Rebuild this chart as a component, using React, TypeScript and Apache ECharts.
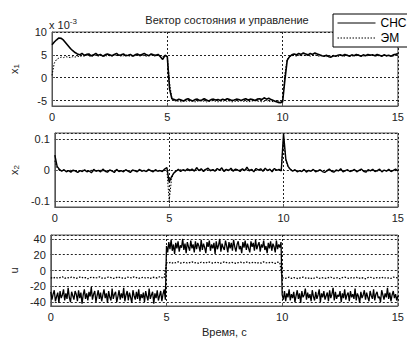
import React, { useEffect, useRef } from "react";
import * as echarts from "echarts";

// time grids: 0.1 s step and 0.05 s step
const time: number[] = Array.from({ length: 151 }, (_, i) => i / 10);
const timeFine: number[] = Array.from({ length: 301 }, (_, i) => i / 20);

const xTicks = [0, 5, 10, 15];

// x1 in units of 1e-3
const x1Snc: number[] = [
  7.2, 7.8, 8.3, 8.7, 8.6, 8.2, 7.6, 7.0, 6.4, 5.9,
  5.5, 5.2, 5.0, 5.3, 4.9, 5.1, 5.2, 4.8, 5.0, 5.3,
  4.9, 5.1, 4.7, 5.0, 5.2, 5.0, 4.8, 5.1, 5.3, 4.9,
  5.0, 5.2, 4.8, 4.9, 5.1, 4.7, 5.0, 5.2, 4.9, 5.1,
  5.3, 5.0, 4.8, 5.2, 5.0, 4.9, 5.1, 4.6, 4.0, 4.9,
  4.6, -2.5, -4.6, -4.8, -5.0, -4.7, -4.9, -5.1, -4.8, -4.6,
  -4.9, -5.1, -4.8, -4.7, -5.0, -4.9, -4.6, -4.9, -5.1, -4.8,
  -4.7, -4.9, -4.8, -5.0, -4.7, -4.9, -4.6, -4.8, -5.0, -4.9,
  -4.7, -4.8, -5.0, -4.8, -4.6, -4.9, -4.7, -4.8, -5.0, -4.7,
  -4.6, -4.8, -4.4, -4.7, -4.5, -4.8, -5.0, -5.2, -5.4, -5.5,
  -5.3, -0.5, 3.8, 4.6, 5.0, 5.2, 5.0, 5.3, 5.1, 5.4,
  5.2, 5.0, 5.3, 5.1, 5.4, 5.2, 5.0, 4.8, 4.7, 4.9,
  4.6, 4.5, 4.8, 4.7, 4.9, 5.0, 4.8, 5.1, 4.9, 4.7,
  5.0, 4.8, 5.1, 4.9, 4.7, 5.0, 4.8, 5.1, 4.9, 5.0,
  4.8, 5.1, 4.9, 4.7, 5.0, 4.8, 4.9, 4.7, 5.0, 5.1, 5.3,
];
const x1Em: number[] = [
  0.5, 3.2, 4.0, 4.3, 4.5, 4.4, 4.6, 4.5, 4.4, 4.6,
  4.5, 4.7, 4.6, 4.8, 4.7, 4.9, 4.8, 4.6, 4.8, 4.9,
  4.7, 4.9, 4.8, 4.6, 4.9, 4.8, 4.7, 5.0, 4.8, 4.9,
  4.7, 4.8, 5.0, 4.8, 4.7, 4.9, 4.8, 5.0, 4.7, 4.9,
  4.8, 4.7, 4.9, 5.0, 4.8, 4.7, 4.9, 4.8, 4.6, 4.8,
  4.7, -1.2, -4.6, -5.0, -5.2, -5.1, -5.3, -5.1, -5.2, -5.0,
  -5.2, -5.1, -5.3, -5.2, -5.0, -5.2, -5.1, -5.3, -5.2, -5.1,
  -5.0, -5.2, -5.3, -5.1, -5.2, -5.0, -5.2, -5.1, -5.3, -5.2,
  -5.1, -5.2, -5.0, -5.2, -5.1, -5.3, -5.2, -5.1, -5.0, -5.2,
  -5.1, -5.3, -5.2, -5.0, -5.2, -5.1, -5.3, -5.2, -5.1, -5.2,
  -5.2, 0.8, 4.1, 4.6, 4.8, 4.9, 4.7, 4.9, 4.8, 5.0,
  4.8, 4.9, 4.7, 4.9, 5.0, 4.8, 4.7, 4.9, 4.8, 4.6,
  4.8, 4.7, 4.9, 4.8, 4.6, 4.9, 4.8, 4.7, 4.9, 4.8,
  4.7, 4.9, 4.8, 5.0, 4.8, 4.7, 4.9, 4.8, 5.0, 4.9,
  4.8, 4.7, 4.9, 4.8, 5.0, 4.7, 4.9, 4.8, 4.7, 4.9, 5.0,
];

const x2Snc: number[] = [
  0.048, 0.012, 0.002, -0.004, 0.001, -0.006, -0.002, -0.007, 0.0, -0.004,
  -0.008, -0.002, -0.005, 0.001, -0.006, -0.003, -0.009, 0.002, -0.004, -0.001,
  -0.006, 0.003, -0.004, -0.007, 0.0, -0.003, -0.008, 0.002, -0.005, -0.002,
  -0.006, 0.001, -0.004, -0.008, 0.0, -0.003, -0.006, 0.002, -0.004, -0.001,
  -0.005, 0.002, -0.003, -0.006, 0.001, -0.004, -0.002, -0.005, 0.003, 0.008,
  -0.04, -0.022, -0.01, -0.004, 0.002, -0.005, 0.001, -0.003, 0.004, -0.002,
  0.003, -0.004, 0.008, -0.002, 0.004, -0.005, 0.002, 0.006, -0.003, 0.001,
  -0.004, 0.005, -0.001, 0.007, -0.005, 0.002, -0.002, 0.006, -0.004, 0.003,
  0.0, -0.005, 0.004, -0.002, 0.009, -0.003, 0.002, -0.006, 0.005, 0.0,
  0.004, -0.004, 0.006, -0.002, 0.003, -0.006, 0.005, -0.001, 0.002, -0.003,
  0.118, 0.035, 0.012, 0.002, -0.004, 0.001, -0.006, -0.002, -0.005, 0.002,
  -0.007, -0.001, -0.004, 0.002, -0.006, -0.003, 0.001, -0.005, -0.008, -0.002,
  0.003, -0.004, -0.007, 0.0, -0.003, 0.004, -0.006, -0.002, 0.001, -0.005,
  -0.003, 0.002, -0.006, -0.001, 0.003, -0.004, -0.007, 0.001, -0.003, 0.002,
  -0.005, -0.002, 0.003, -0.006, 0.0, -0.004, 0.002, -0.005, -0.001, 0.003, -0.003,
];
const x2Em: number[] = [
  0.03, 0.006, 0.0, -0.002, -0.001, -0.003, -0.002, -0.001, -0.003, -0.002,
  -0.002, -0.003, -0.001, -0.002, -0.003, -0.002, -0.001, -0.003, -0.002, -0.002,
  -0.001, -0.003, -0.002, -0.002, -0.001, -0.003, -0.002, -0.001, -0.002, -0.003,
  -0.002, -0.001, -0.003, -0.002, -0.002, -0.001, -0.003, -0.002, -0.001, -0.002,
  -0.003, -0.002, -0.001, -0.002, -0.003, -0.002, -0.001, -0.002, -0.002, -0.001,
  -0.1, -0.03, -0.008, -0.002, 0.0, 0.001, 0.0, 0.001, 0.0, 0.001,
  0.0, 0.001, 0.001, 0.0, 0.001, 0.0, 0.001, 0.0, 0.0, 0.001,
  0.001, 0.0, 0.001, 0.0, 0.001, 0.001, 0.0, 0.001, 0.0, 0.001,
  0.0, 0.001, 0.0, 0.001, 0.001, 0.0, 0.001, 0.0, 0.001, 0.0,
  0.001, 0.0, 0.001, 0.0, 0.001, 0.0, 0.001, 0.001, 0.0, 0.001,
  0.1, 0.03, 0.008, 0.001, -0.001, -0.002, -0.002, -0.003, -0.002, -0.001,
  -0.002, -0.003, -0.002, -0.001, -0.002, -0.003, -0.002, -0.002, -0.001, -0.003,
  -0.002, -0.001, -0.002, -0.003, -0.002, -0.001, -0.002, -0.003, -0.002, -0.002,
  -0.001, -0.002, -0.003, -0.002, -0.001, -0.002, -0.002, -0.003, -0.001, -0.002,
  -0.002, -0.003, -0.002, -0.001, -0.002, -0.003, -0.002, -0.001, -0.002, -0.002, -0.003,
];

// u (СНС) sampled every 0.05 s
const uSnc: number[] = [
  -27, -37, -30, -25, -39, -33, -28, -41, -26, -35,
  -31, -24, -38, -29, -36, -22, -34, -40, -27, -32,
  -37, -26, -30, -39, -25, -35, -28, -42, -31, -24,
  -36, -29, -38, -27, -33, -21, -37, -30, -26, -40,
  -32, -25, -36, -28, -39, -31, -24, -35, -29, -41,
  -26, -34, -38, -23, -36, -30, -27, -40, -33, -25,
  -37, -29, -35, -22, -39, -31, -26, -38, -28, -34,
  -41, -25, -32, -37, -27, -36, -24, -39, -30, -35,
  -28, -40, -26, -33, -38, -23, -36, -31, -27, -42,
  -29, -35, -25, -38, -32, -26, -39, -30, -24, -37,
  31, 23, 36, 27, 39, 25, 33, 21, 35, 28,
  37, 24, 32, 29, 40, 26, 34, 22, 36, 30,
  25, 38, 28, 33, 23, 37, 27, 35, 31, 24,
  39, 26, 34, 29, 22, 36, 30, 38, 25, 33,
  28, 35, 21, 37, 27, 32, 40, 24, 34, 29,
  26, 38, 31, 23, 36, 28, 35, 25, 39, 30,
  24, 33, 37, 27, 31, 22, 36, 29, 38, 26,
  34, 28, 23, 37, 30, 35, 25, 39, 27, 32,
  36, 24, 33, 29, 38, 26, 31, 22, 35, 28,
  37, 25, 34, 30, 23, 38, 27, 33, 29, 36,
  -31, -37, -26, -39, -29, -34, -24, -38, -30, -35,
  -27, -40, -32, -25, -36, -29, -41, -26, -34, -31,
  -23, -37, -28, -35, -30, -39, -25, -33, -38, -27,
  -36, -31, -24, -40, -29, -34, -26, -37, -32, -28,
  -39, -25, -35, -30, -22, -38, -27, -36, -31, -33,
  -26, -40, -29, -35, -24, -37, -31, -28, -39, -26,
  -34, -30, -36, -23, -38, -29, -33, -41, -27, -35,
  -31, -25, -37, -28, -34, -39, -26, -32, -36, -24,
  -38, -30, -27, -35, -33, -40, -25, -31, -37, -29,
  -34, -22, -36, -28, -39, -31, -26, -35, -30, -38, -32,
];
const uEm: number[] = [
  -9, -10, -8.5, -9.5, -9, -8, -10, -9, -9.5, -8.5,
  -9, -10, -9, -8, -9.5, -9, -10.5, -9, -8.5, -9.5,
  -9, -8, -9.5, -10, -9, -8.5, -9, -10, -9.5, -8,
  -9, -9.5, -10, -8.5, -9, -9.5, -8, -9, -10, -9,
  -8.5, -9.5, -9, -10, -8.5, -9, -9.5, -8, -9, -9.5,
  10, 9.5, 10.5, 9, 10, 11, 9.5, 10, 10.5, 9.5,
  10, 11, 9.5, 10, 9, 10.5, 10, 9.5, 11, 10,
  9.5, 10, 10.5, 9, 10, 11, 10, 9.5, 10.5, 10,
  9, 10, 10.5, 9.5, 10, 11, 9.5, 10, 10.5, 9,
  10, 9.5, 11, 10, 9.5, 10.5, 10, 9, 10.5, 10,
  -9, -10, -9.5, -8.5, -10, -9, -9.5, -10.5, -9, -8.5,
  -9.5, -10, -9, -10.5, -9.5, -8.5, -10, -9, -9.5, -10,
  -9, -8.5, -10, -9.5, -9, -10.5, -9, -8.5, -9.5, -10,
  -9, -9.5, -8.5, -10, -9, -9.5, -10.5, -9, -8.5, -9.5,
  -10, -9, -9.5, -8.5, -10, -9, -9.5, -10, -8.5, -9, -9.5,
];

const FONT = "'Liberation Sans', Arial, sans-serif";
const pairs = (t: number[], arr: number[]) => t.map((tt, i) => [tt, arr[i]]);

export default function App() {
  const ref = useRef<HTMLDivElement>(null);
  useEffect(() => {
    document.body.style.margin = "0";
    const chart = echarts.init(ref.current!, null, { renderer: "svg" });
    const grids = [
      { left: 49, top: 32, width: 351, height: 74 },
      { left: 49, top: 133, width: 351, height: 74 },
      { left: 49, top: 235, width: 351, height: 72 },
    ].map((g) => ({ ...g, show: true, borderColor: "#555", borderWidth: 1, backgroundColor: "#fff" }));

    const split = { show: true, lineStyle: { type: [2, 2] as any, color: "#222", width: 1 } };
    const xAxes = [0, 1, 2].map((i) => ({
      type: "value",
      gridIndex: i,
      min: xTicks[0],
      max: xTicks[xTicks.length - 1],
      interval: 5,
      axisLine: { show: true, onZero: false, lineStyle: { color: "#555" } },
      axisTick: { show: true, inside: true, length: 3, lineStyle: { color: "#555" } },
      axisLabel: { color: "#222", fontSize: 11, fontFamily: FONT, margin: 5 },
      splitLine: split,
      name: i === 2 ? "Время, с" : "",
      nameLocation: "middle",
      nameGap: 20,
      nameTextStyle: { color: "#222", fontSize: 11, fontFamily: FONT },
    }));
    const yCommon = {
      type: "value",
      axisLine: { show: true, onZero: false, lineStyle: { color: "#555" } },
      axisTick: { show: true, inside: true, length: 3, lineStyle: { color: "#555" } },
      axisLabel: { color: "#222", fontSize: 11, fontFamily: FONT, margin: 5, showMinLabel: false, showMaxLabel: false },
      splitLine: split,
      nameLocation: "middle",
      nameRotate: 90,
      nameTextStyle: {
        color: "#222",
        fontSize: 11,
        fontFamily: FONT,
        rich: { s: { fontSize: 8, fontFamily: FONT, color: "#222", padding: [5, 0, 0, 0] } },
      },
    };
    const yAxes = [
      { ...yCommon, gridIndex: 0, min: -6.2, max: 10, splitNumber: 3, minInterval: 5, maxInterval: 5, name: "x{s|1}", nameGap: 32,
        axisLabel: { ...yCommon.axisLabel, showMaxLabel: true } },
      { ...yCommon, gridIndex: 1, min: -0.12, max: 0.12, splitNumber: 2, minInterval: 0.1, maxInterval: 0.1, name: "x{s|2}", nameGap: 32 },
      { ...yCommon, gridIndex: 2, min: -45, max: 45, splitNumber: 4, minInterval: 20, maxInterval: 20, name: "u", nameGap: 30 },
    ];
    const line = (name: string, t: number[], data: number[], idx: number, dotted: boolean, width = 1) => ({
      type: "line",
      name,
      xAxisIndex: idx,
      yAxisIndex: idx,
      data: pairs(t, data),
      symbol: "none",
      showSymbol: false,
      lineStyle: { color: "#000", width, type: dotted ? ([1.5, 1.5] as any) : "solid" },
      itemStyle: { color: "#000" },
      emphasis: { disabled: true },
    });
    chart.setOption({
      animation: false,
      grid: grids,
      xAxis: xAxes,
      yAxis: yAxes,
      legend: {
        data: ["СНС", "ЭМ"],
        orient: "vertical",
        left: 333,
        top: 14,
        itemWidth: 38,
        itemHeight: 12,
        itemGap: 3,
        padding: [3, 8, 3, 4],
        backgroundColor: "#fff",
        borderColor: "#000",
        borderWidth: 1,
        itemStyle: { opacity: 0 },
        lineStyle: { width: 1 },
        textStyle: { color: "#000", fontSize: 12, fontFamily: FONT },
      },
      graphic: [
        {
          type: "text",
          x: 227,
          y: 20,
          style: { text: "Вектор состояния и управление", font: `11px ${FONT}`, fill: "#222", align: "center", verticalAlign: "middle" },
        },
        {
          type: "text",
          x: 49,
          y: 17,
          style: {
            text: "x 10{sup|-3}",
            font: `11px ${FONT}`,
            fill: "#222",
            rich: { sup: { fontSize: 8, fontFamily: FONT, fill: "#222", padding: [0, 0, 8, 0] } },
          },
        },
      ],
      series: [
        line("ЭМ", time, x1Em, 0, true),
        line("СНС", time, x1Snc, 0, false, 1.6),
        line("ЭМ", time, x2Em, 1, true),
        line("СНС", time, x2Snc, 1, false, 1.4),
        line("СНС", timeFine, uSnc, 2, false, 1.3),
        line("ЭМ", time, uEm, 2, true, 1.3),
      ],
    });
    return () => chart.dispose();
  }, []);
  return <div ref={ref} style={{ width: 407, height: 338 }} />;
}
